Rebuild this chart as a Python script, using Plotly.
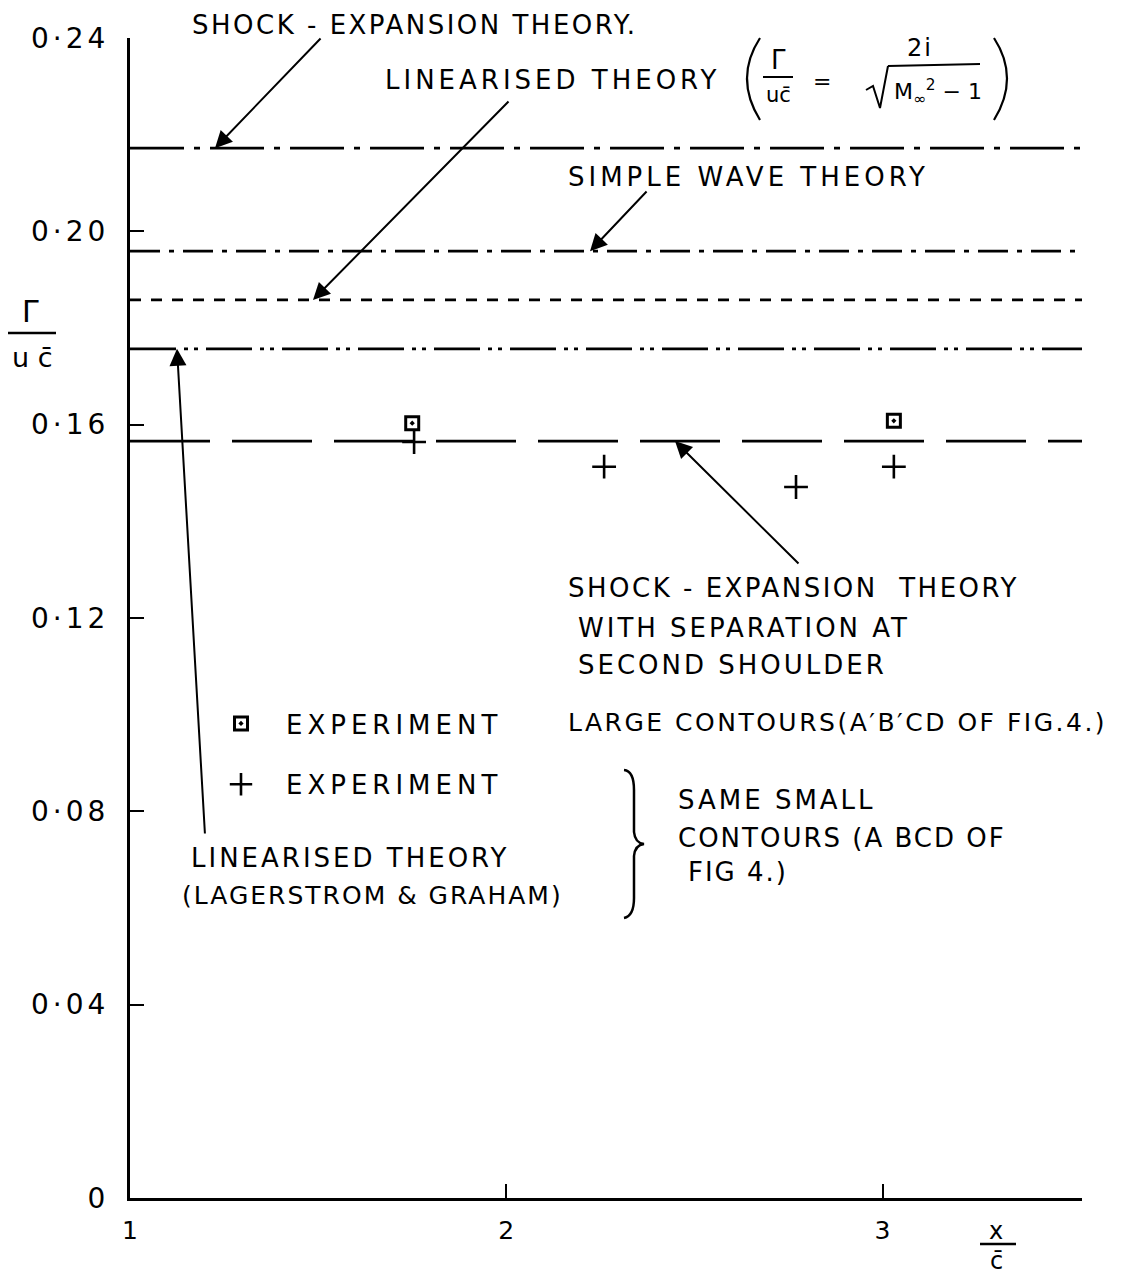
import plotly.graph_objects as go

# ---------------- data ----------------
x_extent = [1.0, 3.53]
theory_names = [
    "Shock-expansion theory",
    "Simple wave theory",
    "Linearised theory",
    "Linearised theory (Lagerstrom & Graham)",
    "Shock-expansion theory with separation at second shoulder",
]
theory_values = [0.2172, 0.1959, 0.1858, 0.1757, 0.1566]
theory_dashes = ["54px,10px,6px,10px", "30px,9px,5px,9px", "11px,10px",
                 "46px,8px,4px,6px,4px,8px", "80px,22px"]

large_x = [1.75, 3.03]
large_y = [0.1603, 0.1608]
small_x = [1.755, 2.26, 2.77, 3.03]
small_y = [0.1564, 0.1513, 0.1471, 0.1513]

y_tickvals = [0, 0.04, 0.08, 0.12, 0.16, 0.20, 0.24]
y_ticktext = ["0", "0·04", "0·08", "0·12", "0·16", "0·20", "0·24"]
x_tickvals = [1, 2, 3]
x_ticktext = ["1", "2", "3"]

# ---------------- geometry helpers ----------------
W, H = 1144, 1283
L, R, T, B = 130, 1082, 38, 1198
XMIN, XMAX, YMIN, YMAX = x_extent[0], x_extent[1], 0.0, 0.24
FONT = "DejaVu Sans"


def sp(text, ls=3):
    return f'<span style="letter-spacing:{ls}px">{text}</span>'


def dx(px):
    return XMIN + (px - L) / (R - L) * (XMAX - XMIN)


def dy(py):
    return YMIN + (B - py) / (B - T) * (YMAX - YMIN)


def px_(px):
    return (px - L) / (R - L)


def py_(py):
    return (B - py) / (B - T)


fig = go.Figure()

for name, val, dash in zip(theory_names, theory_values, theory_dashes):
    fig.add_trace(go.Scatter(
        x=x_extent, y=[val, val], mode="lines", name=name, showlegend=False,
        line=dict(color="black", width=2.8, dash=dash), hoverinfo="skip"))

fig.add_trace(go.Scatter(
    x=large_x, y=large_y, mode="markers", name=sp("EXPERIMENT", 5), legendgroup="a",
    marker=dict(symbol="square-open-dot", size=13, color="black",
                line=dict(color="black", width=3))))
fig.add_trace(go.Scatter(
    x=small_x, y=small_y, mode="markers", name=sp("EXPERIMENT", 5), legendgroup="b",
    marker=dict(symbol="cross-thin-open", size=17, color="black",
                line=dict(color="black", width=2.6))))

ann = []


def label(text, px, py, size=26, xanchor="left", yanchor="middle", ls=3):
    ann.append(dict(text=sp(text, ls) if ls else text, x=px_(px), y=py_(py),
                    xref="paper", yref="paper",
                    xanchor=xanchor, yanchor=yanchor, showarrow=False,
                    font=dict(family=FONT, size=size, color="black")))


def arrow(tip_px, tip_val, tail_px, tail_py):
    ann.append(dict(text="", x=dx(tip_px), y=tip_val, xref="x", yref="y",
                    ax=dx(tail_px), ay=dy(tail_py), axref="x", ayref="y",
                    showarrow=True, arrowhead=2, arrowsize=1.7, arrowwidth=2,
                    arrowcolor="black"))


# text labels
label("SHOCK - EXPANSION THEORY.", 190, 25, ls=2.5)
label("LINEARISED THEORY", 383, 80, ls=4)
label("SIMPLE WAVE THEORY", 566, 177, ls=4)
label("SHOCK - EXPANSION  THEORY", 566, 588, ls=2.5)
label("WITH SEPARATION AT", 576, 628)
label("SECOND SHOULDER", 576, 665)
label("LARGE CONTOURS(A′B′CD OF FIG.4.)", 566, 722, size=25, ls=2.5)
label("SAME SMALL", 676, 800)
label("CONTOURS (A BCD OF", 676, 838, ls=2)
label("FIG 4.)", 686, 872, ls=2)
label("LINEARISED THEORY", 189, 858)
label("(LAGERSTROM & GRAHAM)", 180, 895, size=25, ls=2)

# formula  ( Γ/uc̄ = 2i/√(M∞²−1) )
label("Γ", 778, 60, size=26, xanchor="center", ls=0)
label("uc̄", 778, 95, size=21, xanchor="center", ls=0)
label("=", 822, 82, size=22, xanchor="center", ls=0)
label("2i", 920, 48, size=24, xanchor="center", ls=2)
label("M<sub>∞</sub><sup>2</sup> − 1", 938, 92, size=22, xanchor="center", ls=0)

# axis titles
label("Γ", 30, 312, size=30, xanchor="center", ls=0)
label("u c̄", 32, 357, size=27, xanchor="center", ls=0)
label("x", 996, 1231, size=24, xanchor="center", ls=0)
label("c̄", 996, 1261, size=24, xanchor="center", ls=0)

# arrows (tips sit on the theory lines)
arrow(215, theory_values[0], 322, 37)
arrow(313, theory_values[2], 510, 100)
arrow(590, theory_values[1], 648, 190)
arrow(177, theory_values[3], 205, 835)
arrow(675, theory_values[4], 800, 565)

fig.update_layout(annotations=ann)

shapes = []


def seg(x0, y0, x1, y1, w=2.5):
    shapes.append(dict(type="line", xref="paper", yref="paper",
                       x0=px_(x0), y0=py_(y0), x1=px_(x1), y1=py_(y1),
                       line=dict(color="black", width=w)))


def path(cmds, w=2.5):
    parts = []
    for cmd, pts in cmds:
        coords = " ".join(f"{px_(a):.5f},{py_(b):.5f}" for a, b in pts)
        parts.append(f"{cmd} {coords}")
    shapes.append(dict(type="path", xref="paper", yref="paper",
                       path=" ".join(parts),
                       line=dict(color="black", width=w)))


# fraction bars
seg(763, 77, 793, 77, 2)
seg(888, 66, 980, 64, 2)
seg(8, 333, 56, 333, 2.5)
seg(980, 1244, 1016, 1244, 2.5)
# square-root sign
path([("M", [(866, 90)]), ("L", [(873, 86)]), ("L", [(880, 108)]), ("L", [(888, 66)])], 2)
# thin tall parentheses
path([("M", [(760, 38)]), ("Q", [(734, 78), (760, 120)])], 2.2)
path([("M", [(994, 38)]), ("Q", [(1020, 78), (994, 120)])], 2.2)
# curly brace
path([("M", [(624, 770)]), ("Q", [(634, 771), (634, 790)]), ("L", [(634, 832)]),
      ("Q", [(635, 843), (644, 844)]), ("Q", [(635, 845), (634, 856)]),
      ("L", [(634, 898)]), ("Q", [(634, 916), (624, 918)])])

fig.update_layout(shapes=shapes)

fig.update_layout(
    width=W, height=H, autosize=False,
    margin=dict(l=L, r=W - R, t=T, b=H - B, pad=0),
    paper_bgcolor="white", plot_bgcolor="white",
    font=dict(family=FONT, color="black", size=24),
    showlegend=True,
    legend=dict(x=px_(196), y=py_(700), xanchor="left", yanchor="top",
                bgcolor="rgba(0,0,0,0)", font=dict(family=FONT, size=26),
                tracegroupgap=24, itemwidth=80),
    xaxis=dict(range=[XMIN, XMAX], showgrid=False, zeroline=False,
               showline=True, linecolor="black", linewidth=3,
               ticks="inside", ticklen=14, tickwidth=2, tickcolor="black",
               tickvals=x_tickvals, ticktext=x_ticktext,
               tickfont=dict(family=FONT, size=25), ticklabelstandoff=8),
    yaxis=dict(range=[YMIN, YMAX], showgrid=False, zeroline=False,
               showline=True, linecolor="black", linewidth=3,
               ticks="inside", ticklen=14, tickwidth=2, tickcolor="black",
               tickvals=y_tickvals, ticktext=[sp(t, 4) for t in y_ticktext],
               tickfont=dict(family=FONT, size=28), ticklabelstandoff=12),
)

post = "document.body.style.margin='0';document.body.style.padding='0';"
fig.write_html("out.html", post_script=post,
               config={"displayModeBar": False, "staticPlot": True})
